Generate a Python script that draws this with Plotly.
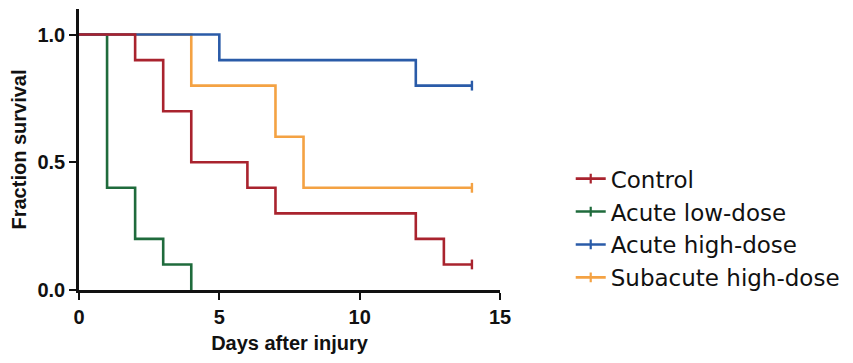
import plotly.graph_objects as go

# Data (Kaplan-Meier steps)
names = ["Control", "Acute low-dose", "Acute high-dose", "Subacute high-dose"]
colors = ["#A9232E", "#1F6B3C", "#2A5BA8", "#F4A243"]

control_days = [0, 2, 3, 4, 6, 7, 12, 13, 14]
control_surv = [1.0, 0.9, 0.7, 0.5, 0.4, 0.3, 0.2, 0.1, 0.1]

acute_low_days = [0, 1, 2, 3, 4]
acute_low_surv = [1.0, 0.4, 0.2, 0.1, 0.0]

acute_high_days = [0, 5, 12, 14]
acute_high_surv = [1.0, 0.9, 0.8, 0.8]

subacute_high_days = [0, 4, 7, 8, 14]
subacute_high_surv = [1.0, 0.8, 0.6, 0.4, 0.4]

censored = [True, False, True, True]

x_ticks = [0, 5, 10, 15]
y_ticks = [0.0, 0.5, 1.0]

series = [
    (control_days, control_surv),
    (acute_low_days, acute_low_surv),
    (acute_high_days, acute_high_surv),
    (subacute_high_days, subacute_high_surv),
]

fig = go.Figure()

draw_order = [3, 1, 2, 0]
for i in draw_order:
    xs, ys = series[i]
    fig.add_trace(go.Scatter(
        x=xs, y=ys, mode="lines", line=dict(color=colors[i], width=2.6, shape="hv"),
        showlegend=False, hoverinfo="skip"))
    if censored[i]:
        fig.add_trace(go.Scatter(
            x=[xs[-1]], y=[ys[-1]], mode="markers",
            marker=dict(symbol="line-ns", size=7, line=dict(color=colors[i], width=2.4)),
            showlegend=False, hoverinfo="skip"))

for i, name in enumerate(names):
    fig.add_trace(go.Scatter(
        x=[None], y=[None], mode="lines+markers", name=name,
        line=dict(color=colors[i], width=2.6),
        marker=dict(symbol="line-ns", size=7, line=dict(color=colors[i], width=2.2)),
        legendrank=i + 1))

tick_font = dict(family="Liberation Sans, Arial, sans-serif", size=20, color="#111111", weight="bold")
title_font = dict(family="Liberation Sans, Arial, sans-serif", size=20, color="#111111")
fig.update_layout(
    width=845, height=355,
    margin=dict(l=71, r=353, t=1, b=73, autoexpand=False),
    paper_bgcolor="white", plot_bgcolor="white",
    showlegend=True,
    legend=dict(
        x=1.168, xanchor="left", y=0.22, yanchor="middle",
        font=dict(family="DejaVu Sans, Noto Sans, sans-serif", size=23, color="#111111"),
        itemwidth=30, tracegroupgap=0, bgcolor="rgba(0,0,0,0)",
    ),
    xaxis=dict(
        range=[0, 15], tickvals=x_ticks, ticktext=[str(v) for v in x_ticks],
        showline=True, linecolor="#111111", linewidth=2.6, ticks="outside",
        ticklen=7, tickwidth=2.4, tickcolor="#111111", showgrid=False, zeroline=False,
        automargin=False, tickfont=tick_font,
        title=dict(text="<b>Days after injury</b>", font=title_font, standoff=10),
    ),
    yaxis=dict(
        range=[0, 1.1], tickvals=y_ticks, ticktext=["%.1f" % v for v in y_ticks],
        showline=True, linecolor="#111111", linewidth=2.6, ticks="outside",
        ticklen=7, tickwidth=2.4, tickcolor="#111111", showgrid=False, zeroline=False,
        automargin=False, tickfont=tick_font,
        title=dict(text="<b>Fraction survival</b>", font=title_font, standoff=8),
    ),
)

fig.write_html("out.html")
